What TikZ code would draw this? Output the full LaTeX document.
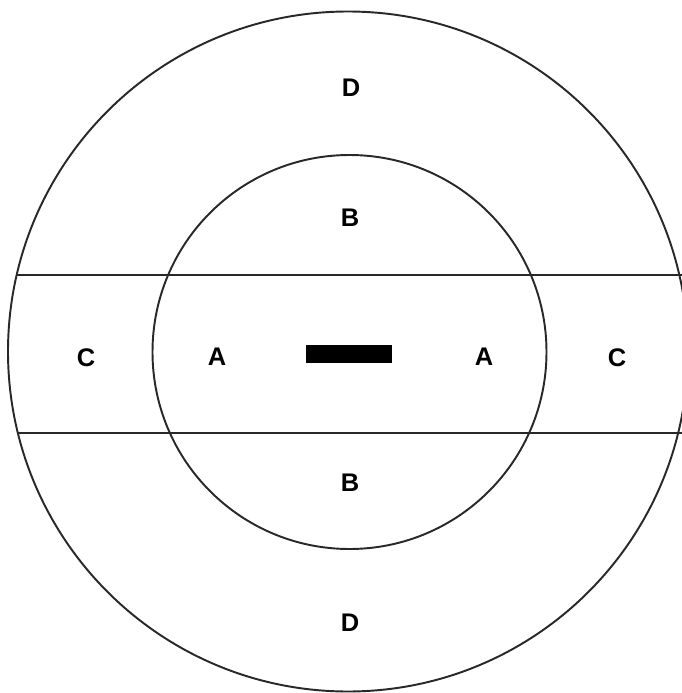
\documentclass[tikz,border=0pt]{standalone}
\usepackage{fontspec}
\setmainfont{Liberation Sans}
\usepackage{tikz}
\usetikzlibrary{positioning}
\definecolor{zoneLine}{RGB}{40,40,40}

\begin{document}
\begin{tikzpicture}[x=0.02cm, y=-0.02cm,
    zone/.style={font=\fontsize{14.5}{15}\selectfont\bfseries, inner sep=0pt}]
\useasboundingbox (0,0) rectangle (682,693);
% rings and strip
\draw[zoneLine, line width=1.1pt] (348,351.5) circle[radius=340];
\draw[zoneLine, line width=1.1pt] (349.5,352) circle[radius=197];
\coordinate (stripTL) at (16.8,274.7);
\coordinate (stripTR) at (682,274.7);
\coordinate (stripBL) at (17.8,432.7);
\coordinate (stripBR) at (682,432.7);
\draw[zoneLine, line width=1.1pt] (stripTL) -- (stripTR);
\draw[zoneLine, line width=1.1pt] (stripBL) -- (stripBR);
% source bar
\fill[black] (306,345) rectangle (392,363);
% labels
\node[zone] (dTop) at (351,88) {D};
\node[zone] (bTop) at (350,218) {B};
\node[zone] (cLeft) at (86,358) {C};
\node[zone] (aLeft) at (217,357) {A};
\node[zone] (aRight) at (484,357) {A};
\node[zone] (cRight) at (617,358) {C};
\node[zone] (bBot) at (350,483) {B};
\node[zone] (dBot) at (350,623) {D};
\end{tikzpicture}
\end{document}
